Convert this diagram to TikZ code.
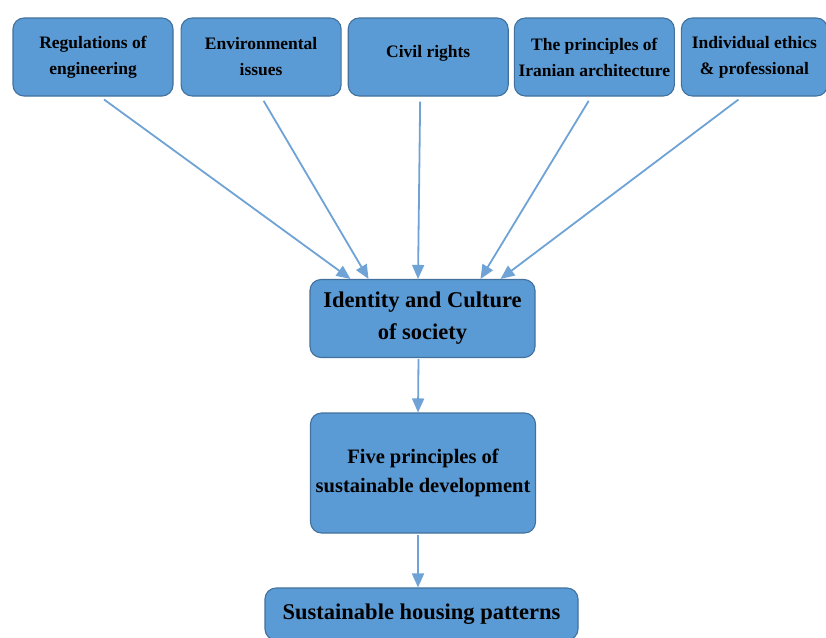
\documentclass[tikz,border=0pt]{standalone}
\usepackage{fontspec}
\setmainfont{Liberation Serif}
\usetikzlibrary{positioning,calc,arrows.meta}

\definecolor{boxfill}{HTML}{5B9BD5}
\definecolor{boxline}{HTML}{41719C}
\definecolor{arrowblue}{HTML}{6FA3D6}

\tikzset{
  factor/.style={draw=boxline, fill=boxfill, line width=1.1pt, rounded corners=11pt,
    minimum width=160pt, minimum height=78pt, align=center, inner sep=0pt,
    font=\bfseries\fontsize{17.5}{26}\selectfont},
  stage/.style={factor, minimum width=225pt, font=\bfseries\fontsize{22.5}{32}\selectfont},
  link/.style={draw=arrowblue, line width=1.8pt,
    -{Triangle[length=14pt,width=12pt,fill=arrowblue]}}
}

\begin{document}
\begin{tikzpicture}[x=1pt,y=-1pt]
  \clip (0,0) rectangle (826,637);
  \fill[white] (0,0) rectangle (826,637);

  \node[factor] (reg) at (93,57) {Regulations of\\engineering};
  \node[factor] (env) [right=7pt of reg] {Environmental\\issues};
  \node[factor] (civ) [right=6pt of env] {Civil rights\\[-14pt]};
  \node[factor] (iran) [right=5pt of civ] {The principles of\\Iranian architecture};
  \node[factor, minimum width=146pt] (ethic) [right=6pt of iran] {Individual ethics\\\& professional};

  \node[stage] (ident) at (422.5,318.5) {Identity and Culture\\of society};
  \node[stage, minimum height=120pt, font=\bfseries\fontsize{20.5}{29}\selectfont]
    (five) at (423,473) {Five principles of\\sustainable development};
  \node[stage, minimum width=313pt, minimum height=52pt] (house) at (421.5,614)
    {Sustainable housing patterns};

  % five factors into identity
  \draw[link, shorten <=5pt] ($(reg.south)+(7,0)$) -- ($(ident.north)+(-72,0)$);
  \draw[link, shorten <=5pt] (env.south) -- ($(ident.north)+(-54,0)$);
  \draw[link, shorten <=5pt] ($(civ.south)+(-8,0)$) -- ($(ident.north)+(-4.5,0)$);
  \draw[link, shorten <=5pt] ($(iran.south)+(-3,0)$) -- ($(ident.north)+(58,0)$);
  \draw[link, shorten <=5pt] ($(ethic.south)+(-12,0)$) -- ($(ident.north)+(78,0)$);

  \draw[link, shorten <=1pt] ($(ident.south)+(-4,0)$) -- ($(five.north)+(-5,0)$);
  \draw[link, shorten <=1pt] ($(five.south)+(-5,0)$) -- ($(house.north)+(-3.5,0)$);
\end{tikzpicture}
\end{document}
